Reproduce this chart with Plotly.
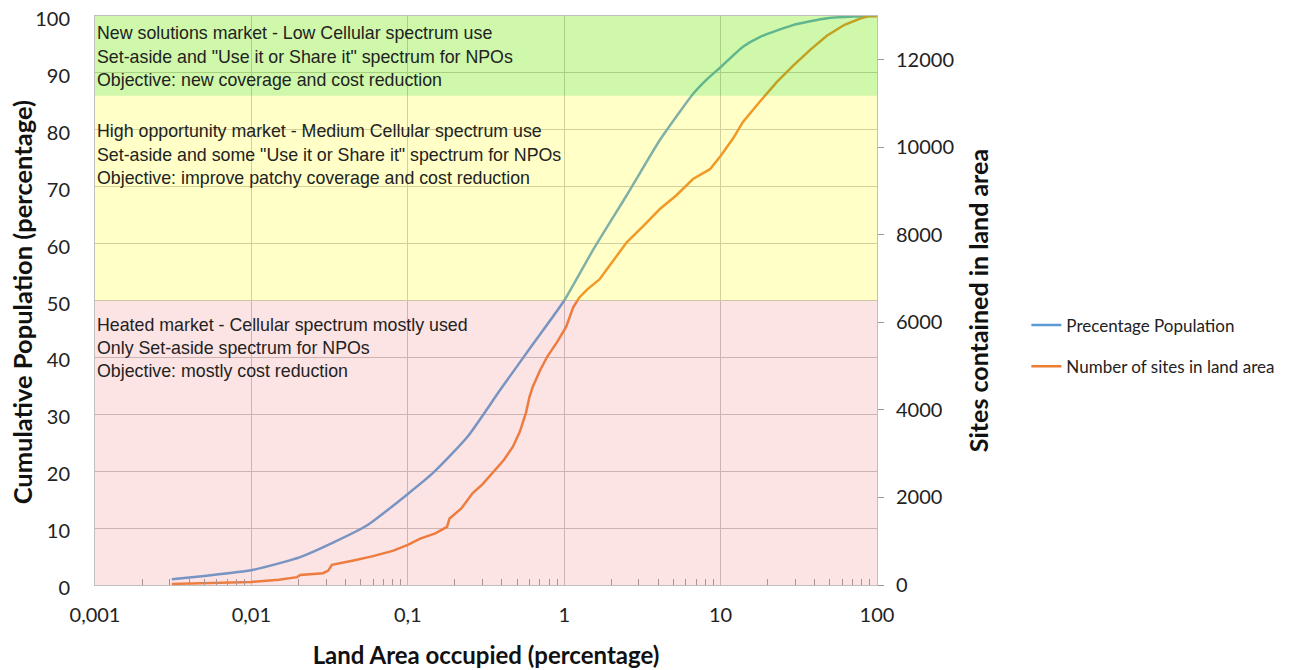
import plotly.graph_objects as go

# ---- data ----
pop_x = [0.0031, 0.005, 0.01, 0.015, 0.0205, 0.033, 0.055, 0.1, 0.145, 0.24, 0.39, 0.63,
         1.0, 1.53, 2.51, 4.09, 5.3, 6.66, 8.2, 10, 13.9, 17.8, 29, 48, 70, 100]
pop_y = [1.0, 1.6, 2.6, 3.8, 4.9, 7.4, 10.5, 16, 19.7, 26, 34.3, 42.3,
         50, 58.9, 68.5, 78.2, 82.6, 86.3, 88.9, 91.0, 94.6, 96.3, 98.4, 99.6, 99.9, 100]

sites_x = [0.0031, 0.005, 0.01, 0.015, 0.0196, 0.0205, 0.0287, 0.031, 0.0327, 0.045, 0.06,
           0.08, 0.1, 0.12, 0.15, 0.178, 0.185, 0.22, 0.26, 0.3, 0.35, 0.41, 0.47, 0.52,
           0.57, 0.6, 0.63, 0.7, 0.78, 0.9, 1.03, 1.14, 1.25, 1.4, 1.68, 2.0, 2.51, 3.2,
           4.09, 5.2, 6.66, 8.55, 10, 12, 13.9, 17.8, 23, 29, 38, 47.8, 62, 78, 88, 100]
sites_y = [25, 40, 70, 120, 180, 229, 270, 330, 460, 560, 660,
           780, 915, 1060, 1180, 1330, 1520, 1750, 2100, 2300, 2560, 2850, 3160, 3500,
           3940, 4300, 4530, 4900, 5220, 5550, 5900, 6340, 6570, 6750, 6980, 7350, 7830, 8200,
           8590, 8900, 9275, 9500, 9800, 10200, 10580, 11040, 11500, 11860, 12250, 12550, 12800, 12940, 13000, 13000]

x_tickvals = [0.001, 0.01, 0.1, 1, 10, 100]
x_ticktext = ["0,001", "0,01", "0,1", "1", "10", "100"]
minor_vals = [m * d for d in [0.001, 0.01, 0.1, 1, 10] for m in range(2, 10)]
y2_tickvals = [0, 2000, 4000, 6000, 8000, 10000, 12000]

bands = [  # (y0, y1, colour)
    (0, 50, "rgba(240,120,120,0.20)"),
    (50, 86, "rgba(255,255,0,0.22)"),
    (86, 100, "rgba(110,235,0,0.33)"),
]

band_texts = [
    (["New solutions market - Low Cellular spectrum use",
      "Set-aside and \"Use it or Share it\" spectrum for NPOs",
      "Objective: new coverage and cost reduction"], [97.0, 92.8, 88.75]),
    (["High opportunity market - Medium Cellular spectrum use",
      "Set-aside and some \"Use it or Share it\" spectrum for NPOs",
      "Objective: improve patchy coverage and cost reduction"], [79.8, 75.6, 71.5]),
    (["Heated market - Cellular spectrum mostly used",
      "Only Set-aside spectrum for NPOs",
      "Objective: mostly cost reduction"], [45.7, 41.65, 37.6]),
]

# ---- figure ----
fig = go.Figure()
fig.add_trace(go.Scatter(x=pop_x, y=pop_y, mode="lines", name="Precentage Population",
                         line=dict(color="#5B9BD5", width=2.5, shape="spline", smoothing=0.6),
                         legendgroup="a"))
fig.add_trace(go.Scatter(x=sites_x, y=sites_y, mode="lines", name="Number of sites in land area",
                         line=dict(color="#ED7D31", width=2.5), yaxis="y2", legendgroup="b"))

for y0, y1, c in bands:
    fig.add_shape(type="rect", xref="paper", yref="y", x0=0, x1=1, y0=y0, y1=y1,
                  fillcolor=c, line=dict(width=0), layer="above")

for lines, ys in band_texts:
    for t, yv in zip(lines, ys):
        fig.add_annotation(text=t, xref="paper", yref="y", x=0.0, y=yv,
                           xanchor="left", yanchor="middle", showarrow=False,
                           font=dict(family="Liberation Sans", size=17.8, color="#222222"))

# left axis title (placed as an annotation to match the reference position)
fig.add_annotation(text="<b>Cumulative Population (percentage)</b>", xref="paper", yref="paper",
                   x=-0.0932, y=0.497, xanchor="center", yanchor="middle", textangle=-90,
                   showarrow=False, font=dict(family="Lato", size=25.5, color="#111111"))

tick_font = dict(family="Lato", size=20, color="#222222")

fig.update_layout(
    width=1283, height=662,
    margin=dict(l=87, r=414, t=8, b=85),
    paper_bgcolor="white", plot_bgcolor="white",
    showlegend=True,
    legend=dict(x=1.191, y=0.42, xanchor="left", yanchor="middle",
                font=dict(family="Lato", size=17, color="#222222"),
                tracegroupgap=16, itemwidth=30, bgcolor="rgba(0,0,0,0)"),
    xaxis=dict(type="log", range=[-3, 2], tickvals=x_tickvals, ticktext=x_ticktext,
               showgrid=True, gridcolor="#c4c4c4", gridwidth=1, automargin=False,
               showline=True, linecolor="#bfbfbf", mirror=True,
               ticks="", tickfont=tick_font, ticklabelstandoff=12,
               minor=dict(tickmode="array", tickvals=minor_vals, ticks="inside",
                          ticklen=6, tickcolor="#9a9a9a", showgrid=False),
               title=dict(text="<b>Land Area occupied (percentage)</b>",
                          font=dict(family="Lato", size=24, color="#111111"), standoff=22),
               zeroline=False),
    yaxis=dict(range=[0, 100], dtick=10, showgrid=True, gridcolor="#c4c4c4", gridwidth=1,
               showline=True, linecolor="#bfbfbf", mirror=True, zeroline=False, automargin=False,
               ticks="", tickfont=tick_font, ticklabelstandoff=20, ticklabeloverflow="allow",
               ticklabelshift=3),
    yaxis2=dict(range=[0, 13000], tickvals=y2_tickvals, tickformat="d",
                overlaying="y", side="right", showgrid=False, zeroline=False, automargin=False,
                ticks="outside", ticklen=6, tickcolor="#9a9a9a", ticklabeloverflow="allow",
                tickfont=tick_font, ticklabelstandoff=8,
                title=dict(text="<b>Sites contained in land area</b>",
                           font=dict(family="Lato", size=25, color="#111111"), standoff=17)),
)

fig.write_html("out.html")
